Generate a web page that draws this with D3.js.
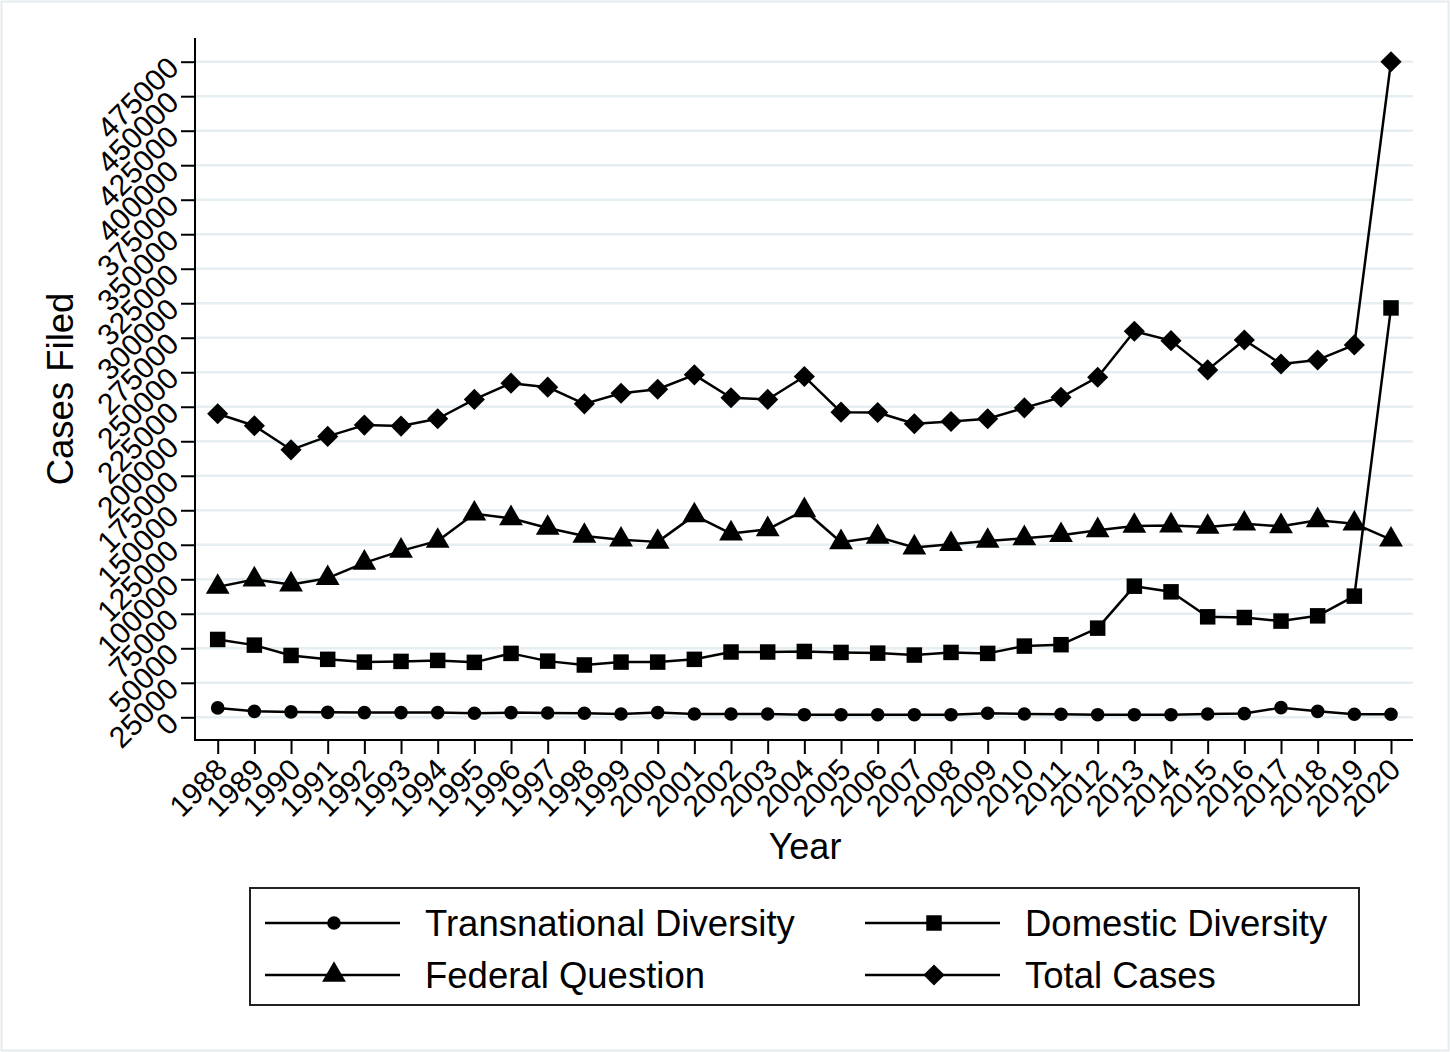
<!DOCTYPE html>
<html>
<head>
<meta charset="utf-8">
<script src="https://cdn.jsdelivr.net/npm/d3@7"></script>
<style>
  html, body { margin: 0; padding: 0; background: #fff; }
  svg { display: block; }
</style>
</head>
<body>
<div id="chart"></div>
<script>
// Civil cases filed in U.S. district courts, by basis of jurisdiction
const years = [1988, 1989, 1990, 1991, 1992, 1993, 1994, 1995, 1996, 1997, 1998,
               1999, 2000, 2001, 2002, 2003, 2004, 2005, 2006, 2007, 2008, 2009,
               2010, 2011, 2012, 2013, 2014, 2015, 2016, 2017, 2018, 2019, 2020];

const transnational = [6800, 4300, 3900, 3600, 3400, 3400, 3400, 2900, 3400, 3100, 2900,
                       2400, 3400, 2400, 2400, 2400, 1900, 1900, 1900, 1900, 1900, 2900,
                       2400, 2200, 1900, 1900, 1900, 2400, 2700, 7000, 4300, 2200, 2200];

const domestic = [56400, 52300, 44800, 42000, 40000, 40500, 41200, 39800, 46300, 40700, 37900,
                  40000, 40000, 42000, 47300, 47300, 47700, 47000, 46500, 45100, 47000, 46300,
                  51600, 52600, 64600, 95000, 90900, 72800, 72300, 69700, 73500, 87800, 296600];

const federal = [94500, 99800, 96200, 100800, 111900, 120600, 127800, 147500, 144200, 137200, 131400,
                 128700, 127100, 146300, 133100, 136200, 150000, 126800, 130700, 123000, 125400, 127800,
                 129700, 131900, 135500, 138600, 138900, 137900, 140300, 138400, 142700, 140300, 128700];

const total = [219900, 211200, 193800, 203500, 211700, 211000, 216300, 230300, 242100, 239200, 227100,
               234800, 237700, 248100, 231500, 230300, 246900, 221100, 220800, 212700, 214300, 216300,
               224200, 231900, 246400, 279700, 272900, 251700, 273400, 256000, 258900, 269800, 475000];

const yTicks = [0, 25000, 50000, 75000, 100000, 125000, 150000, 175000, 200000, 225000,
                250000, 275000, 300000, 325000, 350000, 375000, 400000, 425000, 450000, 475000];

const seriesNames = ["Transnational Diversity", "Domestic Diversity", "Federal Question", "Total Cases"];

const W = 1450, H = 1052;
const FONT = "'Liberation Sans', Arial, Helvetica, sans-serif";
const plot = { left: 195, right: 1413, top: 38, bottom: 740 };

const svg = d3.select("#chart").append("svg")
  .attr("width", W).attr("height", H)
  .style("font-family", FONT);

// outer graph region border
svg.append("rect")
  .attr("x", 1.5).attr("y", 1.5).attr("width", W - 3).attr("height", H - 3)
  .attr("fill", "#fff").attr("stroke", "#e4ebee").attr("stroke-width", 2);

const x = d3.scaleLinear().domain([1988, 2020]).range([217.7, 1391]);
const y = d3.scaleLinear().domain([0, 475000]).range([717.3, 61.7]);

// horizontal grid
svg.append("g").selectAll("line").data(yTicks).join("line")
  .attr("x1", plot.left).attr("x2", plot.right)
  .attr("y1", d => y(d)).attr("y2", d => y(d))
  .attr("stroke", "#e5eef1").attr("stroke-width", 2.4);

// y axis
const yAxis = svg.append("g")
  .attr("transform", `translate(${plot.left},0)`)
  .call(d3.axisLeft(y).tickValues(yTicks).tickFormat(d3.format("d")).tickSize(14).tickSizeOuter(0));
yAxis.select(".domain").remove();
yAxis.selectAll(".tick line").attr("stroke", "#000").attr("stroke-width", 2);
yAxis.selectAll(".tick text")
  .attr("x", 0).attr("dy", "0.35em")
  .attr("text-anchor", "end")
  .attr("fill", "#000")
  .attr("font-size", 30).attr("font-family", FONT)
  .attr("transform", "translate(-22,0) rotate(-45)");
svg.append("line")
  .attr("x1", plot.left).attr("x2", plot.left)
  .attr("y1", plot.top).attr("y2", plot.bottom + 1)
  .attr("stroke", "#000").attr("stroke-width", 2);

// x axis
const xAxis = svg.append("g")
  .attr("transform", `translate(0,${plot.bottom})`)
  .call(d3.axisBottom(x).tickValues(years).tickFormat(d3.format("d")).tickSize(14).tickSizeOuter(0));
xAxis.select(".domain").remove();
xAxis.selectAll(".tick line").attr("stroke", "#000").attr("stroke-width", 2);
xAxis.selectAll(".tick text")
  .attr("x", 0).attr("y", 0).attr("dy", "0.35em")
  .attr("text-anchor", "end")
  .attr("fill", "#000")
  .attr("font-size", 30).attr("font-family", FONT)
  .attr("transform", "translate(3.5,24) rotate(-45)");
svg.append("line")
  .attr("x1", plot.left - 1).attr("x2", plot.right)
  .attr("y1", plot.bottom).attr("y2", plot.bottom)
  .attr("stroke", "#000").attr("stroke-width", 2);

// axis titles
svg.append("text")
  .attr("x", 805).attr("y", 859)
  .attr("text-anchor", "middle")
  .attr("font-size", 36).text("Year");
svg.append("text")
  .attr("transform", "translate(73,389) rotate(-90)")
  .attr("text-anchor", "middle")
  .attr("font-size", 36.5).text("Cases Filed");

// marker shapes
const symbols = {
  "Transnational Diversity": { type: d3.symbolCircle, size: Math.PI * 6.8 * 6.8 },
  "Domestic Diversity":      { type: d3.symbolSquare, size: 15.5 * 15.5 },
  "Federal Question":        { type: d3.symbolTriangle, size: 245 },
  "Total Cases":             { type: d3.symbolDiamond2, size: 285 }
};

const series = [
  { name: seriesNames[0], values: transnational },
  { name: seriesNames[1], values: domestic },
  { name: seriesNames[2], values: federal },
  { name: seriesNames[3], values: total }
];

const line = d3.line().x(d => x(d.year)).y(d => y(d.value));

series.forEach(s => {
  const pts = years.map((yr, i) => ({ year: yr, value: s.values[i] }));
  svg.append("path")
    .datum(pts)
    .attr("d", line)
    .attr("fill", "none").attr("stroke", "#000").attr("stroke-width", 2.5)
    .attr("stroke-linejoin", "round");
  const sym = d3.symbol().type(symbols[s.name].type).size(symbols[s.name].size);
  svg.append("g").selectAll("path").data(pts).join("path")
    .attr("transform", d => `translate(${x(d.year)},${y(d.value)})`)
    .attr("d", sym)
    .attr("fill", "#000");
});

// legend
const legend = svg.append("g");
legend.append("rect")
  .attr("x", 250).attr("y", 888).attr("width", 1109).attr("height", 117)
  .attr("fill", "#fff").attr("stroke", "#222").attr("stroke-width", 2);

const legendItems = [
  { name: seriesNames[0], col: 0, row: 0 },
  { name: seriesNames[1], col: 1, row: 0 },
  { name: seriesNames[2], col: 0, row: 1 },
  { name: seriesNames[3], col: 1, row: 1 }
];
const colX = [265, 865];
const rowY = [923, 975];

legendItems.forEach(it => {
  const x0 = colX[it.col], yy = rowY[it.row];
  const g = legend.append("g");
  g.append("line")
    .attr("x1", x0).attr("x2", x0 + 135)
    .attr("y1", yy).attr("y2", yy)
    .attr("stroke", "#000").attr("stroke-width", 2.5);
  g.append("path")
    .attr("transform", `translate(${x0 + 69},${yy})`)
    .attr("d", d3.symbol().type(symbols[it.name].type).size(symbols[it.name].size))
    .attr("fill", "#000");
  g.append("text")
    .attr("x", x0 + 160).attr("y", yy)
    .attr("dy", "0.35em")
    .attr("font-size", 36.5)
    .text(it.name);
});
</script>
</body>
</html>
